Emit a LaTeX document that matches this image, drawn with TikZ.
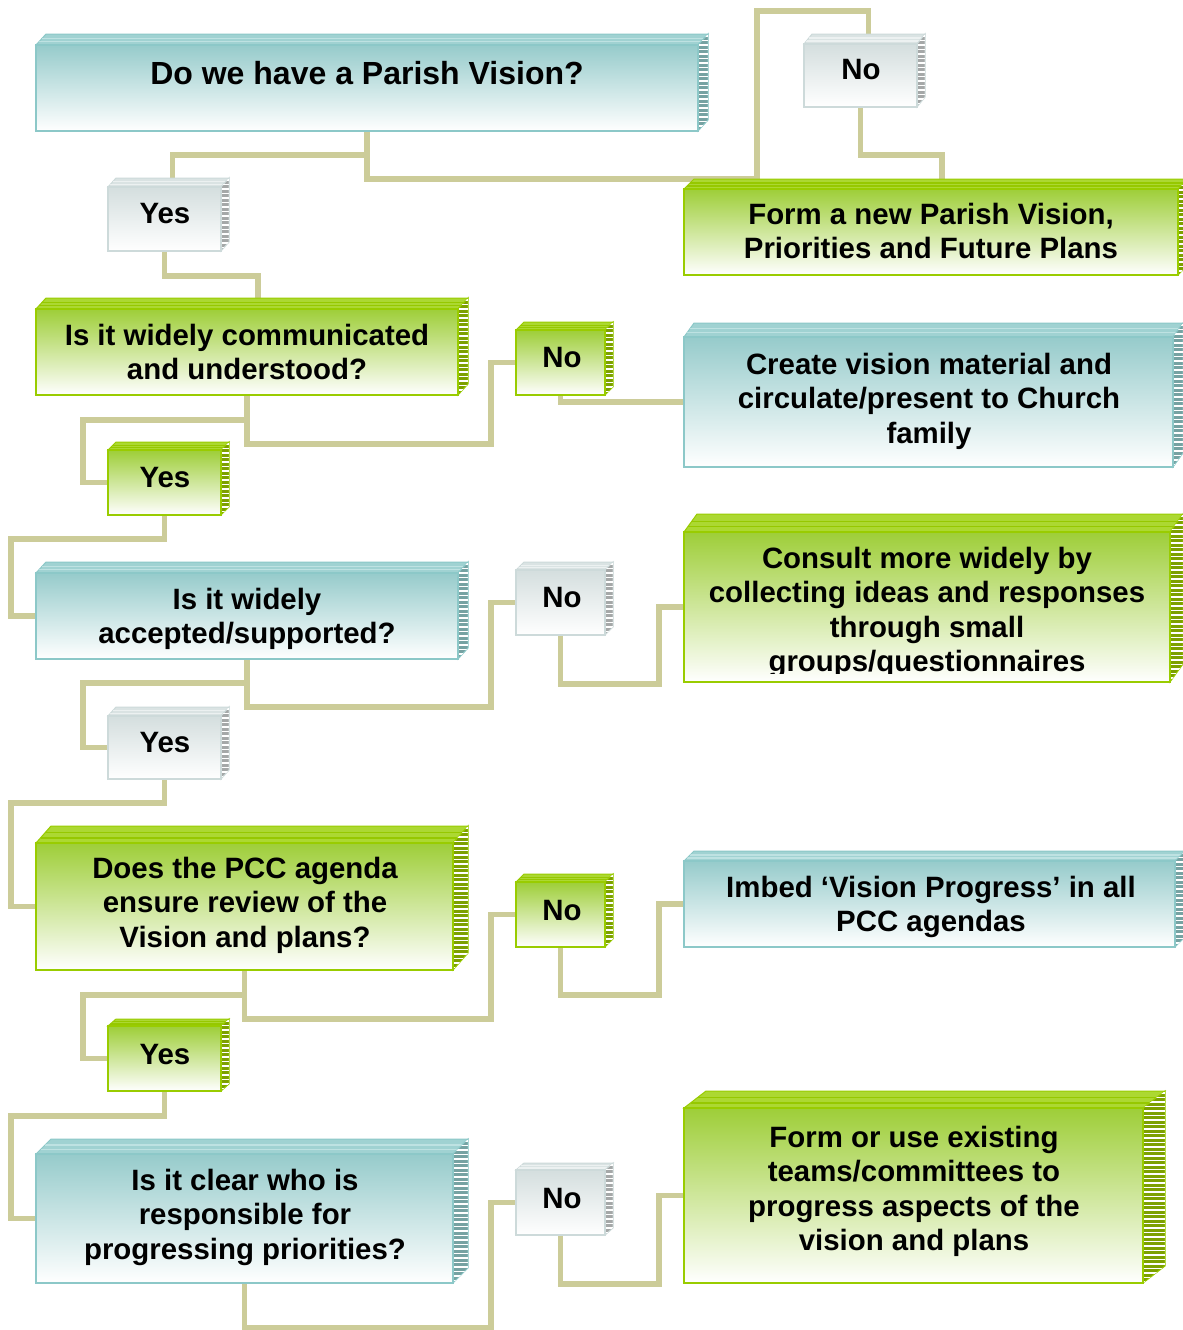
\documentclass[tikz,border=0pt]{standalone}
\usepackage{fontspec}
\setmainfont{Liberation Sans}
\usetikzlibrary{fit,calc}
\definecolor{conncol}{RGB}{204,204,153}
% teal scheme
\definecolor{tealfront}{RGB}{150,203,203}
\definecolor{tealbd}{RGB}{140,200,200}
\definecolor{tealtop}{RGB}{160,210,210}
\definecolor{tealts}{RGB}{190,226,226}
\definecolor{tealside}{RGB}{118,162,162}
% green scheme
\definecolor{greenfront}{RGB}{158,206,56}
\definecolor{greenbd}{RGB}{153,204,0}
\definecolor{greentop}{RGB}{172,216,50}
\definecolor{greents}{RGB}{150,200,0}
\definecolor{greenside}{RGB}{125,160,0}
% grey scheme
\definecolor{greyfront}{RGB}{212,222,222}
\definecolor{greybd}{RGB}{205,218,218}
\definecolor{greytop}{RGB}{218,227,227}
\definecolor{greyts}{RGB}{236,241,241}
\definecolor{greyside}{RGB}{165,168,168}
\pgfdeclarelayer{back}
\pgfdeclarelayer{wires}
\pgfsetlayers{back,wires,main}
\tikzset{
  conn/.style={draw=conncol, line width=2.75pt, line join=miter},
  txt/.style={inner sep=0pt, anchor=north, align=center, font=\bfseries\fontsize{14.7}{17.2}\selectfont},
  bigtxt/.style={txt, font=\bfseries\fontsize{16}{18.4}\selectfont}
}
% #1 name, #2 x1, #3 y1, #4 x2, #5 y2, #6 dx, #7 dy, #8 scheme
\newcommand\cube[8]{%
  \pgfmathsetmacro\cA{#3-#7}%
  \pgfmathsetmacro\cB{#5-#7}%
  \filldraw[fill=#8top, draw=#8bd, line width=0.5pt] (#2,#3) -- (#2+#6,\cA) -- (#4+#6,\cA) -- (#4,#3) -- cycle;
  \begin{scope}
    \clip (#2,#3) -- (#2+#6,\cA) -- (#4+#6,\cA) -- (#4,#3) -- cycle;
    \foreach \t in {0.3,0.6} {\draw[#8ts, line width=0.6pt] (#2+#6*\t,#3-#7*\t) -- (#4+#6*\t,#3-#7*\t);}
  \end{scope}
  \filldraw[fill=#8side, draw=#8bd, line width=0.5pt] (#4,#3) -- (#4+#6,\cA) -- (#4+#6,\cB) -- (#4,#5) -- cycle;
  \begin{scope}
    \clip (#4,#3) -- (#4+#6,\cA) -- (#4+#6,\cB) -- (#4,#5) -- cycle;
    \foreach \i in {0,...,45} {\draw[white, line width=0.7pt] (#4,\cA+\i*4.5+2) -- (#4+#6,\cA+\i*4.5+2);}
  \end{scope}
  \node[fit={(#2,#3)(#4,#5)}, inner sep=0pt, draw=#8bd, line width=1pt,
        top color=#8front, bottom color=white] (#1) {};
}
\newcommand\lbl[4]{\node[txt] (#1) at (#2,#3-24.08) {#4};}

\begin{document}
\begin{tikzpicture}[x=0.5pt,y=-0.5pt]
\useasboundingbox (0,0) rectangle (1183,1330);
\begin{pgfonlayer}{back}
  \fill[white] (0,0) rectangle (1183,1330);
\end{pgfonlayer}

% boxes
\cube{q1}{36}{45}{698}{131}{10}{11}{teal}
\cube{no1}{804}{44}{917}{107}{8}{10}{grey}
\cube{a1}{684}{189}{1178}{275}{10}{10}{green}
\cube{yes1}{108}{187}{221}{251}{8}{9}{grey}
\cube{q2}{36}{309}{458}{395}{10}{11}{green}
\cube{no2}{516}{330}{605}{395}{8}{8}{green}
\cube{a2}{684}{337}{1173}{467}{10}{14}{teal}
\cube{yes2}{108}{450}{221}{515}{8}{8}{green}
\cube{q3}{36}{573}{458}{659}{10}{11}{teal}
\cube{no3}{516}{570}{605}{635}{8}{8}{grey}
\cube{a3}{684}{532}{1170}{682}{13}{18}{green}
\cube{yes3}{108}{716}{221}{779}{8}{9}{grey}
\cube{q4}{36}{843}{453}{970}{15}{17}{green}
\cube{no4}{516}{882}{605}{947}{8}{8}{green}
\cube{a4}{684}{861}{1175}{947}{10}{10}{teal}
\cube{yes4}{108}{1026}{221}{1091}{8}{7}{green}
\cube{q5}{36}{1154}{453}{1283}{15}{15}{teal}
\cube{no5}{516}{1170}{605}{1235}{8}{7}{grey}
\cube{a5}{684}{1108}{1143}{1283}{22}{17}{green}

% texts
\node[bigtxt] (t-q1) at (367,84-25.76) {\strut Do we have a Parish Vision?};
\lbl{t-no1}{861}{79}{\strut No}
\lbl{t-a1}{931}{224}{\strut Form a new Parish Vision,\\\strut Priorities and Future Plans}
\lbl{t-yes1}{165}{223}{\strut Yes}
\lbl{t-q2}{247}{345}{\strut Is it widely communicated\\\strut and understood?}
\lbl{t-no2}{562}{367}{\strut No}
\lbl{t-a2}{929}{374}{\strut Create vision material and\\\strut circulate/present to Church\\\strut family}
\lbl{t-yes2}{165}{487}{\strut Yes}
\lbl{t-q3}{247}{609}{\strut Is it widely\\\strut accepted/supported?}
\lbl{t-no3}{562}{607}{\strut No}
\begin{scope}
  \clip (684,532) rectangle (1170,673);
  \lbl{t-a3}{927}{568}{\strut Consult more widely by\\\strut collecting ideas and responses\\\strut through small\\\strut groups/questionnaires}
\end{scope}
\lbl{t-yes3}{165}{752}{\strut Yes}
\lbl{t-q4}{245}{878}{\strut Does the PCC agenda\\\strut ensure review of the\\\strut Vision and plans?}
\lbl{t-no4}{562}{920}{\strut No}
\lbl{t-a4}{931}{897}{\strut Imbed ‘Vision Progress’ in all\\\strut PCC agendas}
\lbl{t-yes4}{165}{1064}{\strut Yes}
\lbl{t-q5}{245}{1190}{\strut Is it clear who is\\\strut responsible for\\\strut progressing priorities?}
\lbl{t-no5}{562}{1208}{\strut No}
\lbl{t-a5}{914}{1147}{\strut Form or use existing\\\strut teams/committees to\\\strut progress aspects of the\\\strut vision and plans}

% connectors
\begin{pgfonlayer}{wires}
  \draw[conn] (q1.south) |- (172.5,155) -- ([xshift=4pt]yes1.north);
  \draw[conn] (q1.south) |- (757,179) -- (757,11) -| ([xshift=4pt]no1.north);
  \draw[conn] (no1.south) |- (942,155) -- ([xshift=5.5pt]a1.north);
  \draw[conn] (yes1.south) -- ++(0,24) -| ([xshift=5.5pt]q2.north);
  \draw[conn] (q2.south) -- ++(0,24) -| ($(yes2.west)+(-24,0)$) -- (yes2.west);
  \draw[conn] (q2.south) -- ++(0,48) -| ($(no2.west)+(-24,0)$) -- (no2.west);
  \draw[conn] (no2.south) |- (a2.west);
  \draw[conn] (yes2.south) -- ++(0,23) -| ($(q3.west)+(-24,0)$) -- (q3.west);
  \draw[conn] (q3.south) -- ++(0,23) -| ($(yes3.west)+(-24,0)$) -- (yes3.west);
  \draw[conn] (q3.south) -- ++(0,47) -| ($(no3.west)+(-24,0)$) -- (no3.west);
  \draw[conn] (no3.south) -- ++(0,48) -| ($(a3.west)+(-24,0)$) -- (a3.west);
  \draw[conn] (yes3.south) -- ++(0,23) -| ($(q4.west)+(-24,0)$) -- (q4.west);
  \draw[conn] (q4.south) -- ++(0,24) -| ($(yes4.west)+(-24,0)$) -- (yes4.west);
  \draw[conn] (q4.south) -- ++(0,48) -| ($(no4.west)+(-24,0)$) -- (no4.west);
  \draw[conn] (no4.south) -- ++(0,47) -| ($(a4.west)+(-24,0)$) -- (a4.west);
  \draw[conn] (yes4.south) -- ++(0,24) -| ($(q5.west)+(-24,0)$) -- (q5.west);
  \draw[conn] (q5.south) -- ++(0,44) -| ($(no5.west)+(-24,0)$) -- (no5.west);
  \draw[conn] (no5.south) -- ++(0,48) -| ($(a5.west)+(-24,0)$) -- (a5.west);
\end{pgfonlayer}
\end{tikzpicture}
\end{document}
